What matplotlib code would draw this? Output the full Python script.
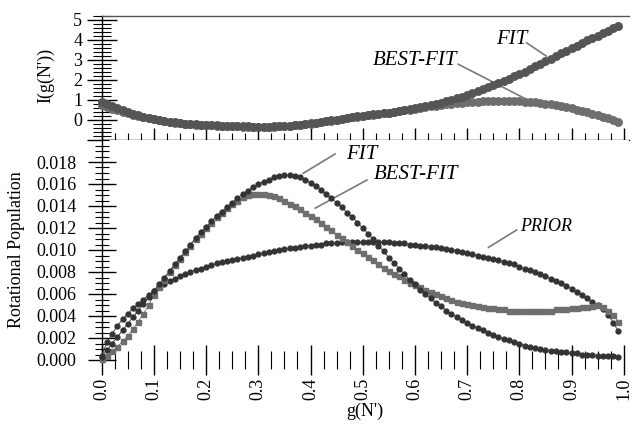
import numpy as np
import matplotlib.pyplot as plt
from matplotlib.ticker import MultipleLocator

# ─── Data ────────────────────────────────────────────────────────────────────

g = np.round(np.arange(0, 100) * 0.01, 2)

# top panel: I(g(N'))
i_fit = [
    0.90, 0.79, 0.68, 0.58, 0.48, 0.39, 0.31, 0.23, 0.16, 0.10,
    0.04, -0.01, -0.05, -0.09, -0.12, -0.15, -0.18, -0.20, -0.22, -0.24,
    -0.25, -0.26, -0.27, -0.28, -0.29, -0.30, -0.31, -0.32, -0.32, -0.33,
    -0.33, -0.33, -0.33, -0.32, -0.31, -0.30, -0.28, -0.26, -0.23, -0.20,
    -0.17, -0.14, -0.10, -0.06, -0.02, 0.02, 0.06, 0.10, 0.14, 0.18,
    0.22, 0.25, 0.28, 0.31, 0.34, 0.37, 0.41, 0.45, 0.49, 0.54,
    0.59, 0.64, 0.69, 0.75, 0.81, 0.87, 0.94, 1.01, 1.08, 1.16,
    1.26, 1.35, 1.44, 1.53, 1.63, 1.73, 1.84, 1.95, 2.06, 2.18,
    2.30, 2.42, 2.55, 2.68, 2.81, 2.94, 3.07, 3.20, 3.33, 3.46,
    3.59, 3.72, 3.85, 3.98, 4.10, 4.22, 4.34, 4.46, 4.58, 4.70,
]
i_best = [
    0.75, 0.66, 0.57, 0.49, 0.41, 0.34, 0.27, 0.20, 0.14, 0.08,
    0.03, -0.02, -0.06, -0.10, -0.13, -0.16, -0.19, -0.21, -0.23, -0.25,
    -0.26, -0.27, -0.28, -0.29, -0.30, -0.31, -0.32, -0.33, -0.33, -0.34,
    -0.34, -0.34, -0.34, -0.33, -0.32, -0.31, -0.29, -0.27, -0.24, -0.21,
    -0.18, -0.15, -0.11, -0.07, -0.03, 0.01, 0.05, 0.09, 0.13, 0.17,
    0.21, 0.24, 0.27, 0.30, 0.33, 0.36, 0.40, 0.44, 0.48, 0.52,
    0.56, 0.60, 0.64, 0.68, 0.72, 0.75, 0.78, 0.81, 0.84, 0.86,
    0.88, 0.90, 0.92, 0.94, 0.95, 0.96, 0.96, 0.96, 0.96, 0.95,
    0.94, 0.92, 0.90, 0.88, 0.85, 0.82, 0.78, 0.74, 0.69, 0.64,
    0.58, 0.52, 0.45, 0.38, 0.31, 0.24, 0.17, 0.09, 0.01, -0.08,
]

# bottom panel: rotational population
pop_fit = [
    0.0003, 0.0009, 0.0015, 0.0021, 0.0027, 0.0033, 0.0039, 0.0045, 0.0051, 0.0057,
    0.0063, 0.0069, 0.0075, 0.0081, 0.0087, 0.0093, 0.0099, 0.0105, 0.0111, 0.0116,
    0.0121, 0.0126, 0.0131, 0.0135, 0.0139, 0.0143, 0.0147, 0.0151, 0.0154, 0.0157,
    0.0160, 0.0162, 0.0164, 0.0166, 0.0167, 0.0168, 0.0168, 0.0167, 0.0166, 0.0164,
    0.0161, 0.0158, 0.0155, 0.0151, 0.0147, 0.0143, 0.0139, 0.0134, 0.0130, 0.0125,
    0.0120, 0.0115, 0.0110, 0.0104, 0.0099, 0.0093, 0.0088, 0.0083, 0.0078, 0.0073,
    0.0069, 0.0064, 0.0060, 0.0056, 0.0052, 0.0049, 0.0045, 0.0042, 0.0039, 0.0036,
    0.0034, 0.0031, 0.0029, 0.0027, 0.0025, 0.0023, 0.0021, 0.0019, 0.0018, 0.0016,
    0.0015, 0.0013, 0.0012, 0.0011, 0.0010, 0.0009, 0.0008, 0.0008, 0.0007, 0.0007,
    0.0006, 0.0006, 0.0005, 0.0005, 0.0005, 0.0004, 0.0004, 0.0004, 0.0004, 0.0003,
]
pop_best = [
    0.0001, 0.0004, 0.0008, 0.0012, 0.0017, 0.0022, 0.0028, 0.0035, 0.0042, 0.0050,
    0.0059, 0.0066, 0.0073, 0.0080, 0.0086, 0.0092, 0.0098, 0.0104, 0.0110, 0.0115,
    0.0120, 0.0125, 0.0130, 0.0134, 0.0138, 0.0142, 0.0145, 0.0148, 0.0150, 0.0151,
    0.0151, 0.0151, 0.0150, 0.0149, 0.0147, 0.0145, 0.0142, 0.0140, 0.0137, 0.0134,
    0.0131, 0.0128, 0.0125, 0.0121, 0.0118, 0.0114, 0.0111, 0.0107, 0.0104, 0.0100,
    0.0097, 0.0094, 0.0091, 0.0087, 0.0084, 0.0081, 0.0078, 0.0076, 0.0073, 0.0070,
    0.0068, 0.0066, 0.0064, 0.0062, 0.0060, 0.0058, 0.0056, 0.0055, 0.0053, 0.0052,
    0.0051, 0.0050, 0.0049, 0.0048, 0.0047, 0.0047, 0.0046, 0.0046, 0.0045, 0.0045,
    0.0045, 0.0045, 0.0045, 0.0045, 0.0045, 0.0045, 0.0045, 0.0046, 0.0046, 0.0046,
    0.0047, 0.0047, 0.0048, 0.0048, 0.0049, 0.0050, 0.0048, 0.0045, 0.0041, 0.0035,
]
pop_prior = [
    0.0004, 0.0016, 0.0024, 0.0031, 0.0037, 0.0042, 0.0047, 0.0051, 0.0055, 0.0059,
    0.0063, 0.0066, 0.0069, 0.0072, 0.0074, 0.0076, 0.0078, 0.0080, 0.0082, 0.0083,
    0.0085, 0.0086, 0.0088, 0.0089, 0.0090, 0.0091, 0.0092, 0.0093, 0.0094, 0.0095,
    0.0096, 0.0097, 0.0098, 0.0099, 0.0100, 0.0101, 0.0102, 0.0102, 0.0103, 0.0104,
    0.0104, 0.0105, 0.0105, 0.0106, 0.0106, 0.0106, 0.0107, 0.0107, 0.0107, 0.0107,
    0.0107, 0.0107, 0.0107, 0.0107, 0.0107, 0.0107, 0.0106, 0.0106, 0.0106, 0.0105,
    0.0105, 0.0104, 0.0104, 0.0103, 0.0103, 0.0102, 0.0101, 0.0100, 0.0099, 0.0098,
    0.0097, 0.0096, 0.0095, 0.0094, 0.0093, 0.0092, 0.0091, 0.0089, 0.0088, 0.0087,
    0.0085, 0.0083, 0.0082, 0.0080, 0.0078, 0.0076, 0.0074, 0.0072, 0.0070, 0.0067,
    0.0065, 0.0062, 0.0059, 0.0056, 0.0053, 0.0050, 0.0046, 0.0041, 0.0034, 0.0026,
]

x_ticks = [0.0, 0.1, 0.2, 0.3, 0.4, 0.5, 0.6, 0.7, 0.8, 0.9, 1.0]
top_yticks = [-1, 0, 1, 2, 3, 4, 5]
bot_yticks = [0.000, 0.002, 0.004, 0.006, 0.008, 0.010, 0.012, 0.014, 0.016, 0.018]

# ─── Style ───────────────────────────────────────────────────────────────────

DARK = "#333333"
MID = "#555555"
GREY = "#6e6e6e"
PTR = "#7a7a7a"

plt.rcParams.update({
    "font.family": ["Liberation Serif", "DejaVu Serif"],
    "font.size": 13,
    "axes.linewidth": 1.0,
})

fig = plt.figure(figsize=(6.36, 4.30), dpi=100)
L, W = 101.7 / 636, 1.01 * 522 / 636
ax1 = fig.add_axes([L, 1 - 140 / 430, W, 124 / 430])
ax2 = fig.add_axes([L, 1 - 360 / 430, W, 220 / 430])

# ─── Top panel ───────────────────────────────────────────────────────────────

ax1.plot(g, i_best, "o-", color=GREY, ms=5.4, lw=0.8, clip_on=False, zorder=3)
ax1.plot(g, i_fit, "o-", color=MID, ms=5.4, lw=0.8, clip_on=False, zorder=4)
ax1.set_xlim(0, 1.01)
ax1.set_ylim(-1, 5.2)
ax1.spines["right"].set_visible(False)
ax1.spines["top"].set_color("#555555")
ax1.set_yticks(top_yticks, labels=[""] + [str(v) for v in top_yticks[1:]])
ax1.yaxis.set_minor_locator(MultipleLocator(0.2))
ax1.tick_params(axis="y", which="major", direction="inout", length=22, width=1, pad=3)
ax1.tick_params(axis="y", which="minor", direction="inout", length=13, width=0.8)
ax1.set_xticks(x_ticks)
ax1.xaxis.set_minor_locator(MultipleLocator(0.025))
ax1.tick_params(axis="x", which="major", direction="in", length=9, width=1, labelbottom=False)
ax1.tick_params(axis="x", which="minor", direction="in", length=5, width=0.8)
ax1.tick_params(top=False, right=False, which="both")
ax1.set_ylabel("I(g(N'))", fontsize=13)
ax1.yaxis.set_label_coords(-0.09, 0.52)

ax1.plot([0.814, 0.852], [3.86, 3.19], color=PTR, lw=1.2)
ax1.plot([0.683, 0.814], [2.79, 1.03], color=PTR, lw=1.2)
ax1.text(0.785, 4.0, "FIT", style="italic", fontsize=15, ha="center", va="center")
ax1.text(0.60, 2.99, "BEST-FIT", style="italic", fontsize=15, ha="center", va="center")

# ─── Bottom panel ────────────────────────────────────────────────────────────

ax2.plot(g, pop_prior, "o-", color=DARK, ms=3.5, lw=0.6, clip_on=False, zorder=3)
ax2.plot(g, pop_best, "s-", color=GREY, ms=3.6, lw=0.6, clip_on=False, zorder=4)
ax2.plot(g, pop_fit, "o-", color=DARK, ms=3.5, lw=0.6, clip_on=False, zorder=5)
ax2.set_xlim(0, 1.01)
ax2.set_ylim(0, 0.020)
for s in ("top", "right", "bottom"):
    ax2.spines[s].set_visible(False)
ax2.set_yticks(bot_yticks, labels=[f"{v:.3f}" for v in bot_yticks])
ax2.yaxis.set_minor_locator(MultipleLocator(0.0005))
ax2.tick_params(axis="y", which="major", direction="inout", length=20, width=1, pad=8)
ax2.tick_params(axis="y", which="minor", direction="inout", length=10, width=0.8)
ax2.set_xticks(x_ticks, labels=[f"{v:.1f}" for v in x_ticks], rotation=90)
ax2.xaxis.set_minor_locator(MultipleLocator(0.025))
ax2.tick_params(axis="x", which="major", direction="inout", length=22, width=1, pad=2)
ax2.tick_params(axis="x", which="minor", direction="inout", length=13, width=0.8)
ax2.tick_params(top=False, right=False, which="both")
ax2.set_ylabel("Rotational Population", fontsize=13)
ax2.yaxis.set_label_coords(-0.145, 0.5)
ax2.set_xlabel("g(N')", fontsize=13)
ax2.xaxis.set_label_coords(0.5, -0.195)

ax2.plot([0.386, 0.447], [0.01697, 0.01873], color=PTR, lw=1.2)
ax2.plot([0.409, 0.508], [0.0138, 0.01636], color=PTR, lw=1.2)
ax2.plot([0.741, 0.795], [0.01024, 0.01182], color=PTR, lw=1.2)
ax2.text(0.498, 0.01864, "FIT", style="italic", fontsize=15, ha="center", va="center")
ax2.text(0.603, 0.01682, "BEST-FIT", style="italic", fontsize=15, ha="center", va="center")
ax2.text(0.852, 0.01212, "PRIOR", style="italic", fontsize=13, ha="center", va="center")

fig.savefig("out.png", dpi=100)
